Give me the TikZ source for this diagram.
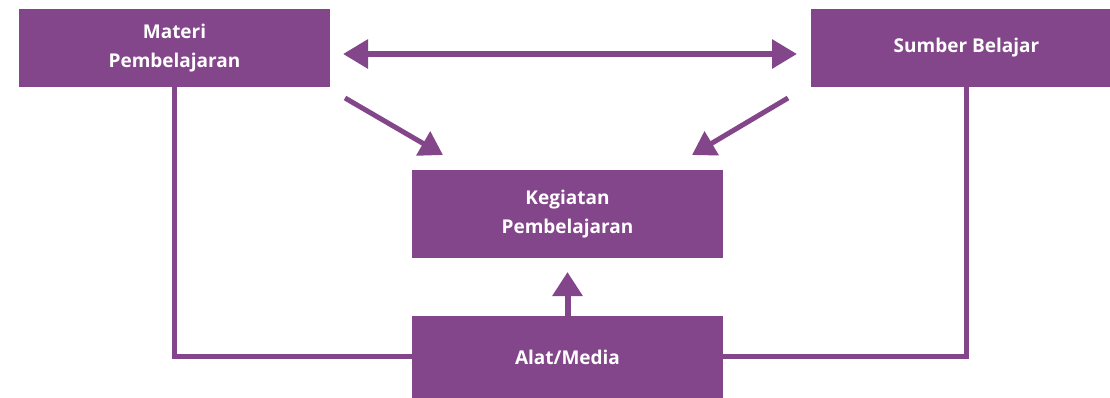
\documentclass[tikz,border=0pt]{standalone}
\usepackage{fontspec}
\setmainfont{Open Sans}
\usetikzlibrary{arrows.meta}
\definecolor{ungu}{RGB}{132,70,139}
\begin{document}
\begin{tikzpicture}[x=1pt,y=-1pt,
  box/.style={fill=ungu, text=white, inner sep=0pt, align=center,
    font=\fontsize{19}{28.5}\selectfont\bfseries},
  link/.style={draw=ungu, line width=5pt},
  bigarrow/.style={draw=ungu, line width=6pt,
    -{Triangle[length=25pt,width=28pt]}},
  diagarrow/.style={draw=ungu, line width=5pt,
    -{Triangle[length=23pt,width=27pt]}}]
\useasboundingbox (0,0) rectangle (1110,397);

% boxes
\node[box, minimum width=311pt, minimum height=78pt] (materi) at (174.5,48) {Materi\\Pembelajaran};
\node[box, minimum width=311pt, minimum height=78pt] (sumber) at (966.5,48) {Sumber Belajar};
\node[box, minimum width=311pt, minimum height=88pt] (kegiatan) at (567.5,214) {Kegiatan\\Pembelajaran};
\node[box, minimum width=311pt, minimum height=82pt] (alat) at (567.5,357) {Alat/Media};

% arrow end points
\coordinate (dl) at (343,54);
\coordinate (dr) at (797,54);
\coordinate (ml) at (345,98);
\coordinate (kl) at (443,155);
\coordinate (sr) at (788,98);
\coordinate (kr) at (692,155);
\coordinate (au) at (567.5,272);

% two-way arrow between the top boxes
\draw[bigarrow, {Triangle[length=25pt,width=28pt]}-{Triangle[length=25pt,width=28pt]}] (dl) -- (dr);

% diagonal arrows into the activity box
\draw[diagarrow] (ml) -- (kl);
\draw[diagarrow] (sr) -- (kr);

% media feeds the activity
\draw[bigarrow, -{Triangle[length=24pt,width=29pt]}] (alat.north) -- (au);

% side connectors
\draw[link] (materi.south) -- (materi.south |- 0,356) -- (alat.west |- 0,356);
\draw[link] (sumber.south) -- (sumber.south |- 0,356) -- (alat.east |- 0,356);
\end{tikzpicture}
\end{document}
